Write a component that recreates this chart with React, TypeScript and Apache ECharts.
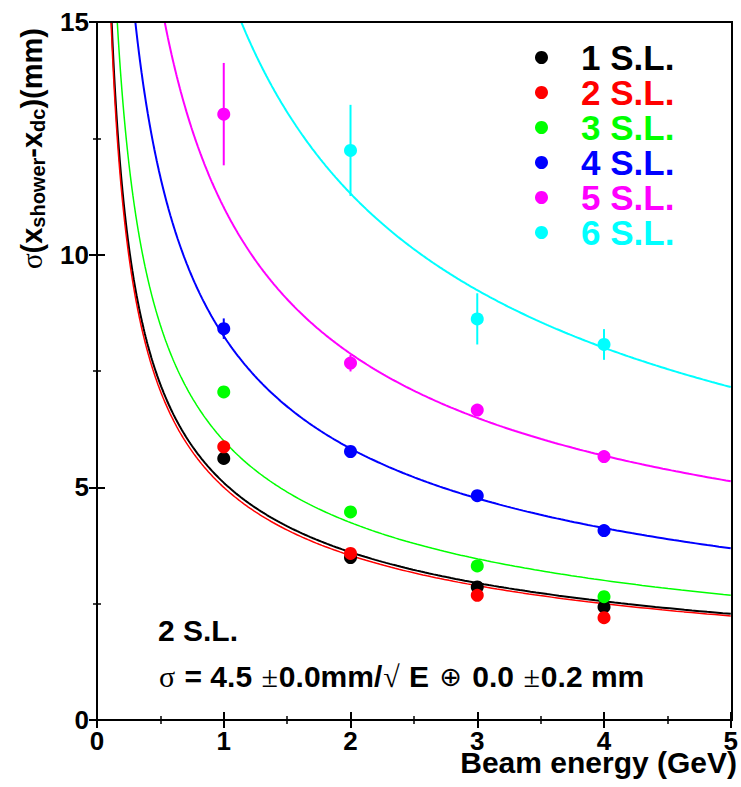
import React, { useEffect, useRef } from "react";
import * as echarts from "echarts";

// ---- data ----
const energies = [1, 2, 3, 4];
const seriesNames = ["1 S.L.", "2 S.L.", "3 S.L.", "4 S.L.", "5 S.L.", "6 S.L."];
const seriesColors = ["#000000", "#ff0000", "#00ff00", "#0000ff", "#ff00ff", "#00ffff"];

const sigma1 = [5.62, 3.49, 2.86, 2.43];
const sigma2 = [5.87, 3.58, 2.68, 2.2];
const sigma3 = [7.05, 4.47, 3.31, 2.65];
const sigma4 = [8.41, 5.77, 4.82, 4.07];
const sigma5 = [13.02, 7.67, 6.66, 5.66];
const sigma6 = [null, 12.24, 8.62, 8.07];

const err1 = [0.08, 0.07, 0.07, 0.07];
const err2 = [0.08, 0.07, 0.07, 0.07];
const err3 = [0.1, 0.08, 0.08, 0.08];
const err4 = [0.22, 0.1, 0.1, 0.08];
const err5 = [1.1, 0.18, 0.12, 0.1];
const err6 = [null, 0.98, 0.55, 0.33];

// fit: sigma = a/sqrt(E) (+) b
const fitStochastic = [5.1, 5.0, 6.0, 8.25, 10.9, 16.0];
const fitConstant = [0, 0, 0, 0, 1.6, 0];
const fitLineWidths = [2, 1.5, 1.5, 2, 2, 2];

const xTickMin = 0;
const xTickMax = 5;
const yTickMin = 0;
const yTickMax = 15;

const allSigma = [sigma1, sigma2, sigma3, sigma4, sigma5, sigma6];
const allErr = [err1, err2, err3, err4, err5, err6];

const FONT = "'Liberation Sans', Arial, Helvetica, sans-serif";

function fitCurve(a: number, b: number): number[][] {
  const pts: number[][] = [];
  const eStart = Math.max(0.02, ((a * a) / (yTickMax * yTickMax - b * b)) * 0.97);
  const n = 300;
  for (let i = 0; i <= n; i++) {
    const e = eStart * Math.pow(xTickMax / eStart, i / n);
    const s = Math.sqrt((a * a) / e + b * b);
    pts.push([e, s]);
  }
  return pts;
}

export default function App() {
  const ref = useRef<HTMLDivElement>(null);

  useEffect(() => {
    if (!ref.current) return;
    const chart = echarts.init(ref.current, undefined, { renderer: "svg" });

    const curveSeries = seriesNames.map((name, i) => ({
      type: "line",
      name: name + " fit",
      data: fitCurve(fitStochastic[i], fitConstant[i]),
      showSymbol: false,
      symbol: "none",
      lineStyle: { color: seriesColors[i], width: fitLineWidths[i] },
      clip: true,
      z: 2,
      silent: true,
    }));

    const errSeries = seriesNames.map((name, i) => ({
      type: "custom",
      name: name + " err",
      data: energies
        .map((e, j) =>
          allSigma[i][j] == null
            ? null
            : [e, (allSigma[i][j] as number) - (allErr[i][j] as number), (allSigma[i][j] as number) + (allErr[i][j] as number)]
        )
        .filter((d) => d !== null),
      encode: { x: 0, y: [1, 2] },
      renderItem: (_params: any, api: any) => {
        const p1 = api.coord([api.value(0), api.value(1)]);
        const p2 = api.coord([api.value(0), api.value(2)]);
        return {
          type: "line",
          shape: { x1: p1[0], y1: p1[1], x2: p2[0], y2: p2[1] },
          style: { stroke: seriesColors[i], lineWidth: 2 },
        };
      },
      clip: true,
      z: 3,
      silent: true,
    }));

    const pointSeries = seriesNames.map((name, i) => ({
      type: "scatter",
      name,
      data: energies
        .map((e, j) => (allSigma[i][j] == null ? null : [e, allSigma[i][j]]))
        .filter((d) => d !== null),
      symbol: "circle",
      symbolSize: 13,
      itemStyle: { color: seriesColors[i], opacity: 1 },
      z: 4,
    }));

    const axisCommon = {
      axisLine: { show: true, lineStyle: { color: "#000", width: 2 } },
      axisTick: { show: true, inside: true, length: 8, lineStyle: { color: "#000", width: 2 } },
      minorTick: { show: true, splitNumber: 2, length: 4, lineStyle: { color: "#000", width: 1.5 } },
      splitLine: { show: false },
    };

    chart.setOption({
      animation: false,
      backgroundColor: "#ffffff",
      grid: { left: 97, top: 22, right: 9, bottom: 67, show: false },
      legend: {
        data: seriesNames.map((n, i) => ({
          name: n,
          icon: "circle",
          textStyle: { color: seriesColors[i] },
        })),
        orient: "vertical",
        left: 535,
        top: 40,
        padding: 0,
        itemGap: 0,
        itemWidth: 13,
        itemHeight: 13,
        selectedMode: false,
        textStyle: {
          fontFamily: FONT,
          fontWeight: "bold",
          fontSize: 35,
          lineHeight: 35,
          padding: [0, 0, 0, 28],
        },
      },
      xAxis: [
        {
          type: "value",
          min: xTickMin,
          max: xTickMax,
          interval: 1,
          position: "bottom",
          ...axisCommon,
          axisLabel: {
            show: true,
            margin: 12,
            color: "#000",
            fontFamily: FONT,
            fontWeight: "bold",
            fontSize: 26,
            lineHeight: 18,
          },
        },
        {
          type: "value",
          min: xTickMin,
          max: xTickMax,
          interval: 1,
          position: "top",
          ...axisCommon,
          axisLabel: { show: false },
        },
      ],
      yAxis: [
        {
          type: "value",
          min: yTickMin,
          max: yTickMax,
          interval: 5,
          position: "left",
          ...axisCommon,
          axisLabel: {
            show: true,
            margin: 8,
            color: "#000",
            fontFamily: FONT,
            fontWeight: "bold",
            fontSize: 26,
            lineHeight: 20,
          },
        },
        {
          type: "value",
          min: yTickMin,
          max: yTickMax,
          interval: 5,
          position: "right",
          ...axisCommon,
          axisLabel: { show: false },
        },
      ],
      graphic: [
        {
          type: "text",
          x: 737,
          y: 762,
          style: {
            text: "Beam energy (GeV)",
            fontFamily: FONT,
            fontWeight: "bold",
            fontSize: 30,
            lineHeight: 20,
            fill: "#000",
            align: "right",
            verticalAlign: "middle",
          },
        },
        {
          type: "text",
          x: 48,
          y: 28,
          rotation: Math.PI / 2,
          style: {
            text: "{g|σ}{b|(x}{s|shower}{b|-x}{s|dc}{b|)(mm)}",
            align: "right",
            verticalAlign: "bottom",
            rich: {
              g: { fontFamily: "'Liberation Serif', serif", fontSize: 29, lineHeight: 33, fill: "#000" },
              b: { fontFamily: FONT, fontWeight: "bold", fontSize: 29, lineHeight: 33, fill: "#000" },
              s: {
                fontFamily: FONT,
                fontWeight: "bold",
                fontSize: 20,
                lineHeight: 17,
                verticalAlign: "bottom",
                fill: "#000",
              },
            },
          },
        },
        {
          type: "text",
          x: 158,
          y: 630,
          style: {
            text: "2 S.L.",
            fontFamily: FONT,
            fontWeight: "bold",
            fontSize: 30,
            fill: "#000",
            align: "left",
            verticalAlign: "middle",
          },
        },
        {
          type: "text",
          x: 158,
          y: 676,
          style: {
            text: "{g|σ}{b| = 4.5 }{g|±}{b|0.0mm/}{g|√}{b| E }{o|⊕}{b| 0.0 }{g|±}{b|0.2 mm}",
            align: "left",
            verticalAlign: "middle",
            rich: {
              g: {
                fontFamily: "'Liberation Serif', serif",
                fontSize: 30,
                lineHeight: 34,
                padding: [0, 1, 0, 1],
                fill: "#000",
              },
              o: {
                fontFamily: "'DejaVu Sans', sans-serif",
                fontSize: 27,
                lineHeight: 34,
                padding: [0, 2, 0, 2],
                fill: "#000",
              },
              b: { fontFamily: FONT, fontWeight: "bold", fontSize: 30, lineHeight: 34, fill: "#000" },
            },
          },
        },
        {
          type: "rect",
          shape: { x: 97, y: 22, width: 635, height: 698 },
          style: { fill: "none", stroke: "#000", lineWidth: 2 },
          z: 10,
          silent: true,
        },
      ],
      series: [...curveSeries, ...errSeries, ...pointSeries],
    });

    return () => chart.dispose();
  }, []);

  return (
    <div
      ref={ref}
      style={{ position: "absolute", left: 0, top: 0, width: 741, height: 787 }}
    />
  );
}
